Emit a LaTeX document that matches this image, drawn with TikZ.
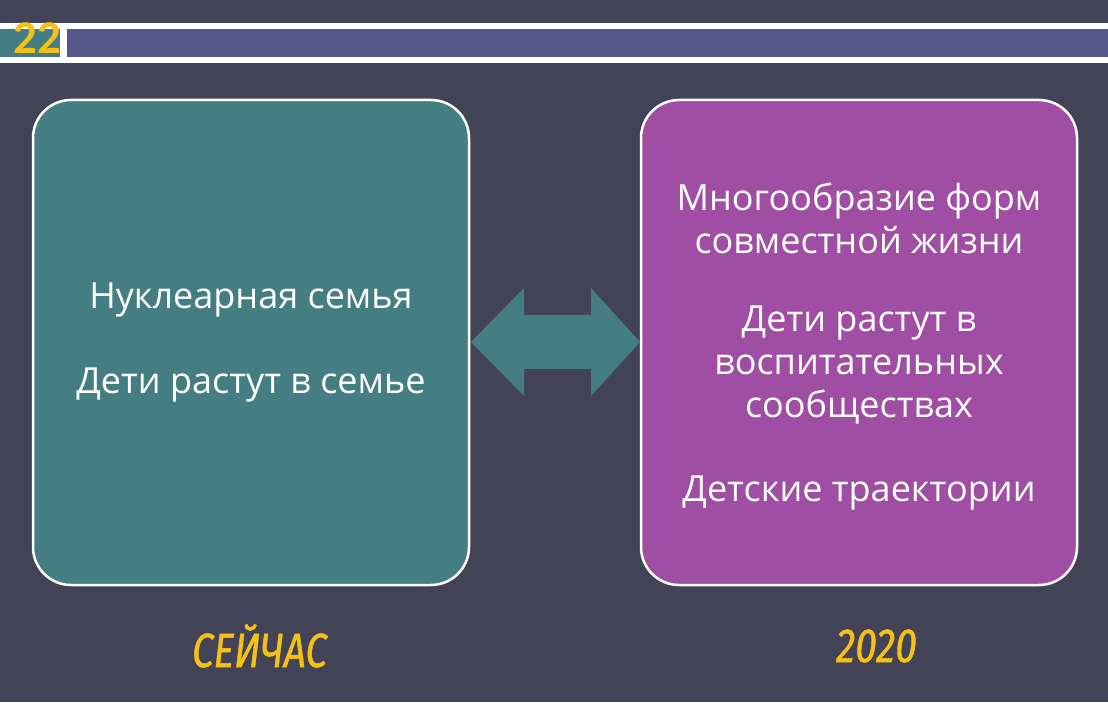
\documentclass[tikz,border=0pt]{standalone}
\usepackage{fontspec}
\setmainfont{Open Sans}
\newfontfamily\numfont{Carlito}
\newfontfamily\labfont[FakeStretch=0.8,FakeSlant=0.12,FakeBold=1]{Fira Sans}
\definecolor{bg}{RGB}{66,67,86}
\definecolor{tealc}{RGB}{69,126,130}
\definecolor{purplec}{RGB}{160,78,163}
\definecolor{barc}{RGB}{85,86,138}
\definecolor{yellowc}{RGB}{245,192,24}
\begin{document}
\begin{tikzpicture}[x=1pt,y=1pt,
  panel/.style={draw=white,line width=2.5pt,rounded corners=38pt},
  bodytext/.style={text=white,font=\fontsize{36}{43}\selectfont,align=center},
  labtext/.style={text=yellowc,font=\labfont\fontsize{48}{48}\selectfont}]
\fill[bg] (0,0) rectangle (1108,702);
\useasboundingbox (0,0) rectangle (1108,702);
% header
\fill[white] (0,702-23) rectangle (1108,702-63);
\fill[tealc] (0,702-29) rectangle (60,702-57);
\fill[barc] (67,702-29) rectangle (1108,702-57);
\node[text=yellowc,font=\numfont\bfseries\fontsize{47}{47}\selectfont,anchor=base] (num) at (37,702-54) {22};
% panels
\filldraw[panel,fill=tealc] (33,702-100) rectangle (469,702-585);
\node (lbox) at (251,702-342.5) {};
\filldraw[panel,fill=purplec] (641,702-100) rectangle (1077,702-585);
\node (rbox) at (859,702-342.5) {};
% double arrow
\fill[tealc] (471,702-342) -- (524,702-288) -- (524,702-315) -- (591,702-315) -- (591,702-288)
  -- (640,702-342) -- (591,702-396) -- (591,702-369) -- (524,702-369) -- (524,702-396) -- cycle;
% texts
\node[bodytext] (l1) at (251,702-300) {Нуклеарная семья};
\node[bodytext] (l2) at (251,702-385) {Дети растут в семье};
\node[bodytext] (r1) at (859,702-218) {Многообразие форм\\совместной жизни};
\node[bodytext] (r2) at (859,702-365) {Дети растут в\\воспитательных\\сообществах};
\node[bodytext] (r3) at (859,702-493) {Детские траектории};
\node[labtext] (now) at (258,702-646) {СЕЙЧАС};
\node[labtext] (yr) at (875,702-646) {2020};
\end{tikzpicture}
\end{document}
